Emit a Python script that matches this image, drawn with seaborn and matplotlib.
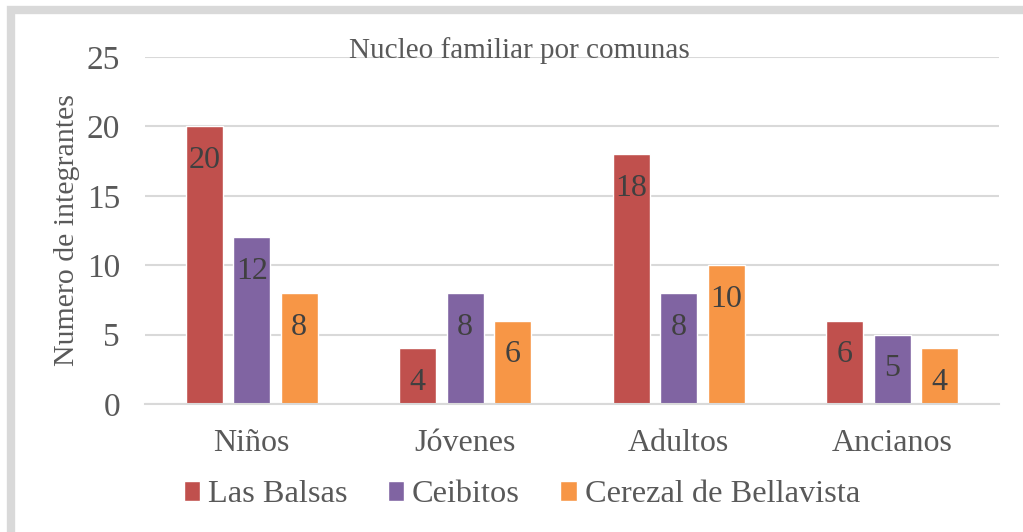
import matplotlib
matplotlib.use("Agg")
import matplotlib.pyplot as plt
import seaborn as sns
import pandas as pd
from matplotlib.patches import Rectangle

# data
grupos = ["Niños", "Jóvenes", "Adultos", "Ancianos"]
comunas = ["Las Balsas", "Ceibitos", "Cerezal de Bellavista"]
las_balsas = [20, 4, 18, 6]
ceibitos = [12, 8, 8, 5]
cerezal = [8, 6, 10, 4]
colores = ["#C0504D", "#8064A2", "#F79646"]

df = pd.DataFrame({
    "Grupo": grupos * 3,
    "Comuna": [c for c in comunas for _ in grupos],
    "Valor": las_balsas + ceibitos + cerezal,
})

sns.set_theme(style="white")
plt.rcParams["font.family"] = ["Liberation Serif", "DejaVu Serif"]
txt = "#595959"

fig = plt.figure(figsize=(10.23, 5.32), dpi=100)
ax = fig.add_axes([145 / 1023, 1 - 404 / 532, 854 / 1023, 347 / 532])

sns.barplot(data=df, x="Grupo", y="Valor", hue="Comuna", palette=colores,
            width=0.667, gap=0.22, ax=ax, saturation=1, legend=True)

for cont in ax.containers:
    ax.bar_label(cont, label_type="edge", padding=-35, fontsize=23, color="#404040")

ax.set_ylim(0, 25)
ax.set_yticks([0, 5, 10, 15, 20, 25])
ax.yaxis.grid(True, color="#D9D9D9", linewidth=1.5)
ax.set_axisbelow(True)
for s in ["top", "right", "left"]:
    ax.spines[s].set_visible(False)
ax.spines["bottom"].set_color("#D9D9D9")
ax.spines["bottom"].set_linewidth(1.5)
ax.tick_params(axis="y", labelsize=24, colors=txt, length=0, pad=18)
ax.tick_params(axis="x", labelsize=23, colors=txt, length=0, pad=18)
ax.set_xlabel("")
ax.set_ylabel("Numero de integrantes", fontsize=21.5, color=txt, labelpad=5)

fig.text(519 / 1023, 1 - 51 / 532, "Nucleo familiar por comunas", ha="center",
         va="center", fontsize=21, color=txt)

ax.legend(loc="center", bbox_to_anchor=(0.51, 1 - 495 / 532), bbox_transform=fig.transFigure,
          ncol=3, frameon=False, fontsize=23.3, labelcolor=txt, handlelength=0.5,
          handleheight=0.55, handletextpad=0.25, columnspacing=1.25)

# marco gris
fig.patches.append(Rectangle((10.5 / 1023, -0.1), 1.2, 1.1 - 10 / 532, transform=fig.transFigure,
                             fill=False, edgecolor="#D9D9D9", linewidth=6))

fig.savefig("out.png", dpi=100)
